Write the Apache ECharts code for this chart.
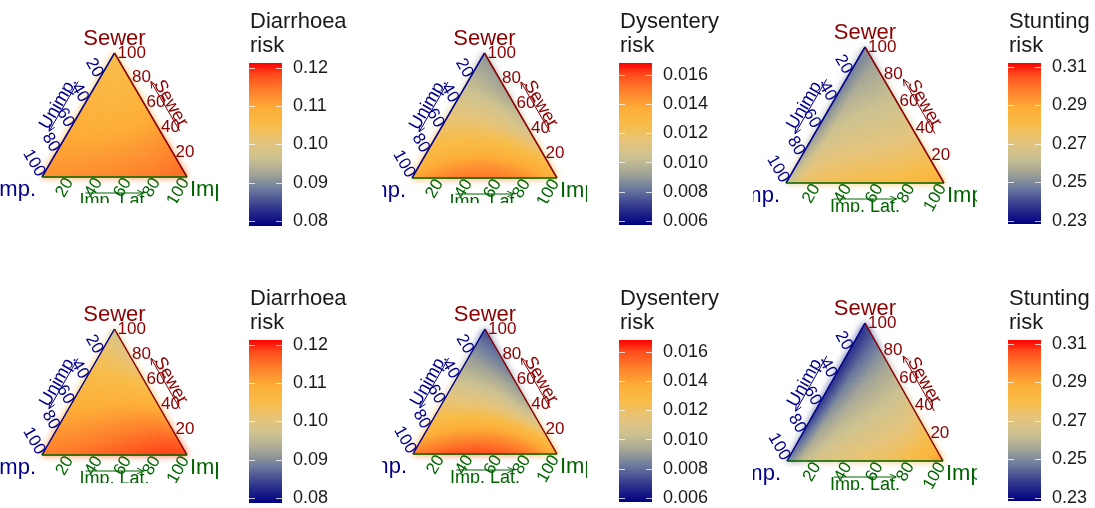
<!DOCTYPE html>
<html><head><meta charset="utf-8">
<script src="https://cdn.jsdelivr.net/npm/echarts@6/dist/echarts.min.js"></script>
<style>html,body{margin:0;padding:0;background:#fff}#c{width:1095px;height:508px}</style>
</head><body><div id="c"></div>
<script>
// ---------------- data ----------------
const tickValues = [20, 40, 60, 80, 100];
const cornerNames = ['Sewer', 'Unimp.', 'Imp. Lat.'];
const diarrhoeaTicks = [0.08, 0.09, 0.10, 0.11, 0.12];
const dysenteryTicks = [0.006, 0.008, 0.010, 0.012, 0.014, 0.016];
const stuntingTicks = [0.23, 0.25, 0.27, 0.29, 0.31];
const diarrhoeaRange = [0.0787, 0.1213];
const dysenteryRange = [0.00573, 0.01682];
const stuntingRange = [0.2284, 0.3121];
const legendTitles = ['Diarrhoea\nrisk', 'Dysentery\nrisk', 'Stunting\nrisk'];
// Node values: one row per Sewer level 0,10,...,100; inside a row Imp. Lat. = 0,10,20,...
const diarrhoeaPanel1 = [
  [0.1120,0.1122,0.1124,0.1126,0.1128,0.1131,0.1135,0.1140,0.1146,0.1152,0.1155],
  [0.1113,0.1115,0.1117,0.1119,0.1121,0.1124,0.1128,0.1133,0.1140,0.1147],
  [0.1106,0.1107,0.1108,0.1110,0.1112,0.1115,0.1120,0.1126,0.1135],
  [0.1100,0.1098,0.1099,0.1101,0.1103,0.1107,0.1112,0.1122],
  [0.1094,0.1090,0.1090,0.1092,0.1095,0.1100,0.1108],
  [0.1086,0.1082,0.1082,0.1084,0.1088,0.1095],
  [0.1078,0.1074,0.1074,0.1077,0.1083],
  [0.1070,0.1066,0.1067,0.1072],
  [0.1062,0.1058,0.1060],
  [0.1053,0.1050],
  [0.1043]
];
const dysenteryPanel1 = [
  [0.0138,0.0143,0.0147,0.0150,0.0151,0.0151,0.0150,0.0148,0.0144,0.0139,0.0133],
  [0.0134,0.0138,0.0141,0.0143,0.0144,0.0144,0.0142,0.0139,0.0135,0.0128],
  [0.0129,0.0131,0.0133,0.0134,0.0134,0.0133,0.0131,0.0127,0.0120],
  [0.0125,0.0126,0.0127,0.0127,0.0126,0.0124,0.0119,0.0112],
  [0.0120,0.0120,0.0120,0.0119,0.0116,0.0111,0.0104],
  [0.0115,0.0114,0.0113,0.0111,0.0107,0.0100],
  [0.0110,0.0108,0.0106,0.0102,0.0096],
  [0.0104,0.0102,0.0098,0.0093],
  [0.0099,0.0096,0.0091],
  [0.0094,0.0090],
  [0.0087]
];
const stuntingPanel1 = [
  [0.2620,0.2745,0.2770,0.2782,0.2790,0.2797,0.2805,0.2815,0.2828,0.2845,0.2865],
  [0.2590,0.2715,0.2740,0.2752,0.2760,0.2767,0.2775,0.2786,0.2800,0.2820],
  [0.2560,0.2685,0.2710,0.2722,0.2730,0.2737,0.2746,0.2758,0.2775],
  [0.2535,0.2658,0.2682,0.2695,0.2703,0.2710,0.2720,0.2738],
  [0.2515,0.2633,0.2656,0.2668,0.2677,0.2686,0.2700],
  [0.2500,0.2610,0.2632,0.2644,0.2654,0.2668],
  [0.2490,0.2590,0.2610,0.2623,0.2638],
  [0.2485,0.2570,0.2590,0.2608],
  [0.2483,0.2552,0.2575],
  [0.2485,0.2535],
  [0.2495]
];
const diarrhoeaPanel2 = [
  [0.1140,0.1145,0.1150,0.1156,0.1162,0.1168,0.1175,0.1182,0.1188,0.1190,0.1185],
  [0.1128,0.1132,0.1137,0.1142,0.1148,0.1154,0.1160,0.1166,0.1170,0.1165],
  [0.1115,0.1118,0.1122,0.1127,0.1132,0.1137,0.1142,0.1145,0.1138],
  [0.1102,0.1104,0.1107,0.1110,0.1114,0.1117,0.1118,0.1110],
  [0.1088,0.1089,0.1091,0.1093,0.1094,0.1092,0.1082],
  [0.1074,0.1074,0.1074,0.1073,0.1068,0.1055],
  [0.1060,0.1058,0.1055,0.1048,0.1033],
  [0.1045,0.1040,0.1032,0.1015],
  [0.1030,0.1020,0.1000],
  [0.1012,0.0990],
  [0.0965]
];
const dysenteryPanel2 = [
  [0.0149,0.0153,0.0157,0.0159,0.0160,0.0160,0.0158,0.0155,0.0150,0.0143,0.0135],
  [0.0140,0.0144,0.0147,0.0149,0.0150,0.0149,0.0147,0.0143,0.0137,0.0128],
  [0.0132,0.0135,0.0137,0.0138,0.0138,0.0136,0.0132,0.0125,0.0115],
  [0.0124,0.0126,0.0126,0.0126,0.0124,0.0120,0.0113,0.0104],
  [0.0117,0.0117,0.0116,0.0114,0.0110,0.0104,0.0096],
  [0.0110,0.0109,0.0107,0.0104,0.0099,0.0091],
  [0.0103,0.0101,0.0098,0.0094,0.0087],
  [0.0096,0.0093,0.0089,0.0083],
  [0.0089,0.0085,0.0080],
  [0.0082,0.0077],
  [0.0072]
];
const stuntingPanel2 = [
  [0.2480,0.2620,0.2675,0.2705,0.2725,0.2742,0.2760,0.2782,0.2815,0.2865,0.2940],
  [0.2440,0.2585,0.2645,0.2678,0.2700,0.2718,0.2737,0.2760,0.2795,0.2845],
  [0.2410,0.2555,0.2617,0.2652,0.2675,0.2694,0.2715,0.2742,0.2785],
  [0.2390,0.2530,0.2592,0.2627,0.2651,0.2672,0.2698,0.2740],
  [0.2375,0.2507,0.2570,0.2605,0.2630,0.2655,0.2690],
  [0.2365,0.2487,0.2550,0.2585,0.2613,0.2645],
  [0.2360,0.2470,0.2532,0.2570,0.2600],
  [0.2358,0.2455,0.2517,0.2558],
  [0.2360,0.2443,0.2505],
  [0.2365,0.2435],
  [0.2380]
];

// ---------------- style ----------------
const palette = [[0,'#000080'],[0.12,'#353C8E'],[0.22,'#6A789E'],[0.32,'#A3A596'],[0.42,'#CDC290'],
  [0.52,'#E6C47A'],[0.62,'#F8BC48'],[0.72,'#FDAE38'],[0.84,'#FE7A2A'],[0.93,'#FF4A1C'],[1,'#FF0000']];
const C_S = '#8B0000', C_U = '#00008B', C_L = '#006400';
const FONT = '"Liberation Sans", Arial, Helvetica, sans-serif';
const H = Math.sqrt(3) / 2;

function hex(c){return [parseInt(c.slice(1,3),16),parseInt(c.slice(3,5),16),parseInt(c.slice(5,7),16)];}
const palRGB = palette.map(p => [p[0], hex(p[1])]);
function colorF(f){
  f = Math.max(0, Math.min(1, f));
  for (let i = 1; i < palRGB.length; i++) {
    if (f <= palRGB[i][0]) {
      const a = palRGB[i-1], b = palRGB[i];
      const t = (f - a[0]) / (b[0] - a[0]);
      const c = a[1].map((v, k) => Math.round(v + (b[1][k] - v) * t));
      return 'rgb(' + c.join(',') + ')';
    }
  }
  return 'rgb(255,0,0)';
}
function colorAt(v, range){ return colorF((v - range[0]) / (range[1] - range[0])); }

// panels: triangle box (tl,tr,tt,tb) and clipping box (cl,cr,ct,cb) in px
const panels = [
  {nodes: diarrhoeaPanel1, range: diarrhoeaRange, tl:42, tr:187, tt:53, tb:177, cl:0, cr:218, ct:0, cb:203},
  {nodes: dysenteryPanel1, range: dysenteryRange, tl:412, tr:557, tt:53, tb:178, cl:382, cr:587, ct:0, cb:203},
  {nodes: stuntingPanel1, range: stuntingRange, tl:786, tr:944, tt:47, tb:183, cl:753, cr:977, ct:0, cb:212},
  {nodes: diarrhoeaPanel2, range: diarrhoeaRange, tl:42, tr:187, tt:329, tb:455, cl:0, cr:218, ct:254, cb:483},
  {nodes: dysenteryPanel2, range: dysenteryRange, tl:413, tr:557, tt:329, tb:454, cl:382, cr:587, ct:254, cb:483},
  {nodes: stuntingPanel2, range: stuntingRange, tl:787, tr:943, tt:323, tb:461, cl:753, cr:977, ct:254, cb:490}
];
const bars = [
  {range: diarrhoeaRange, ticks: diarrhoeaTicks, dec:2, title: legendTitles[0], left:249, top:63, h:163},
  {range: dysenteryRange, ticks: dysenteryTicks, dec:3, title: legendTitles[1], left:619, top:63, h:162},
  {range: stuntingRange, ticks: stuntingTicks, dec:2, title: legendTitles[2], left:1008, top:63, h:161},
  {range: diarrhoeaRange, ticks: diarrhoeaTicks, dec:2, title: legendTitles[0], left:249, top:340, h:163},
  {range: dysenteryRange, ticks: dysenteryTicks, dec:3, title: legendTitles[1], left:619, top:340, h:162},
  {range: stuntingRange, ticks: stuntingTicks, dec:2, title: legendTitles[2], left:1008, top:340, h:161}
];

// build triangle cells from node rows
function buildCells(rows){
  const cells = [];
  const n = rows.length - 1;
  for (let r = 0; r < n; r++) {
    for (let j = 0; j <= n - 1 - r; j++) {
      cells.push([10*r, 10*j, rows[r][j], 10*r, 10*(j+1), rows[r][j+1], 10*(r+1), 10*j, rows[r+1][j]]);
      if (j <= n - 2 - r)
        cells.push([10*r, 10*(j+1), rows[r][j+1], 10*(r+1), 10*j, rows[r+1][j], 10*(r+1), 10*(j+1), rows[r+1][j+1]]);
    }
  }
  return cells;
}
function onEdge(c){
  const S = [c[0], c[3], c[6]], L = [c[1], c[4], c[7]];
  const U = S.map((s, i) => 100 - s - L[i]);
  const cnt = arr => arr.filter(v => Math.abs(v) < 1e-9).length;
  return cnt(S) >= 2 || cnt(L) >= 2 || cnt(U) >= 2;
}
function triFill(p, v, range){
  const a1 = p[1][0]-p[0][0], b1 = p[1][1]-p[0][1], a2 = p[2][0]-p[0][0], b2 = p[2][1]-p[0][1];
  const d1 = v[1]-v[0], d2 = v[2]-v[0];
  const det = a1*b2 - a2*b1;
  const vmin = Math.min(v[0],v[1],v[2]), vmax = Math.max(v[0],v[1],v[2]);
  if (Math.abs(det) < 1e-9 || vmax - vmin < 1e-12) return colorAt(v[0], range);
  const gx = (d1*b2 - b1*d2)/det, gy = (a1*d2 - d1*a2)/det;
  const g2 = gx*gx + gy*gy;
  const sA = (vmin - v[0])/g2, sB = (vmax - v[0])/g2;
  const stops = [];
  for (let k = 0; k <= 4; k++) { const t = k/4; stops.push({offset: t, color: colorAt(vmin + t*(vmax-vmin), range)}); }
  return new echarts.graphic.LinearGradient(p[0][0]+gx*sA, p[0][1]+gy*sA, p[0][0]+gx*sB, p[0][1]+gy*sB, stops, true);
}
function cellRender(range, halo){
  return function(params, api){
    const pts = [], vals = [];
    for (let k = 0; k < 3; k++) {
      const S = api.value(3*k), L = api.value(3*k+1);
      pts.push(api.coord([L + S/2, S*H]));
      vals.push(api.value(3*k+2));
    }
    const fill = triFill(pts, vals, range);
    const style = {fill: fill, stroke: fill, lineWidth: 0.8};
    if (halo) { style.shadowBlur = 7; style.shadowColor = colorAt((vals[0]+vals[1]+vals[2])/3, range); }
    return {type: 'polygon', shape: {points: pts}, style: style};
  };
}
function decoRender(params, api){
  const P = (S, L) => api.coord([L + S/2, S*H]);
  const apex = P(100, 0), bl = P(0, 0), br = P(0, 100);
  const unit = (a, b) => { const dx = b[0]-a[0], dy = b[1]-a[1], l = Math.hypot(dx, dy); return [dx/l, dy/l]; };
  const dR = unit(apex, br), dB = unit(br, bl), dL = unit(bl, apex);
  const nR = [dR[1], -dR[0]], nB = [dB[1], -dB[0]], nL = [dL[1], -dL[0]];
  const rotR = -Math.atan2(dR[1], dR[0]), rotL = -Math.atan2(dL[1], dL[0]);
  const ch = [];
  const line = (a, b, col, w) => ch.push({type:'line', shape:{x1:a[0], y1:a[1], x2:b[0], y2:b[1]}, style:{stroke:col, lineWidth:w}});
  const text = (x, y, str, col, size, align, va, rot) => ch.push({type:'text', x:x, y:y, rotation:rot||0,
    style:{text:str, fill:col, fontSize:size, fontFamily:FONT, align:align, verticalAlign:va}});
  const off = (p, n, d) => [p[0]+n[0]*d, p[1]+n[1]*d];
  const arrow = (a, b, n, d, col) => {
    const A = off(a, n, d), B = off(b, n, d);
    line(A, B, col, 1);
    const u = unit(B, A);
    [0.42, -0.42].forEach(t => {
      const r = [u[0]*Math.cos(t) - u[1]*Math.sin(t), u[0]*Math.sin(t) + u[1]*Math.cos(t)];
      line(B, [B[0]+r[0]*7, B[1]+r[1]*7], col, 1);
    });
  };
  // triangle edges
  line(bl, apex, C_U, 1.5); line(apex, br, C_S, 1.5); line(bl, br, C_L, 1.5);
  // tick labels
  tickValues.forEach(t => {
    const pr = P(t, 100 - t);
    text(pr[0] + 3, pr[1], String(t), C_S, 17, 'left', 'middle', 0);
    const pl = P(100 - t, 0);
    text(pl[0] - dR[0]*2, pl[1] - dR[1]*2, String(t), C_U, 17, 'right', 'middle', rotR);
    const pb = P(0, t);
    text(pb[0] - dL[0]*3, pb[1] - dL[1]*3, String(t), C_L, 17, 'right', 'middle', rotL);
  });
  // arrows
  arrow(P(30, 70), P(70, 30), nR, 17, C_S);
  arrow(P(70, 0), P(30, 0), nL, 17, C_U);
  arrow(P(0, 30), P(0, 70), nB, 16, C_L);
  // axis titles
  const tS = off(P(50, 50), nR, 23), tU = off(P(50, 0), nL, 23), tL = off(P(0, 50), nB, 24);
  text(tS[0], tS[1], cornerNames[0], C_S, 18, 'center', 'middle', rotR);
  text(tU[0], tU[1], cornerNames[1], C_U, 18, 'center', 'middle', rotL);
  text(tL[0], tL[1], cornerNames[2], C_L, 18, 'center', 'middle', 0);
  // corner labels
  text(apex[0], apex[1] - 14, cornerNames[0], C_S, 22, 'center', 'middle', 0);
  text(bl[0] - 6, bl[1] + 13, cornerNames[1], C_U, 22, 'right', 'middle', 0);
  text(br[0] + 3, br[1] + 13, cornerNames[2], C_L, 22, 'left', 'middle', 0);
  return {type: 'group', children: ch};
}
function barRender(range){
  return function(params, api){
    const p0 = api.coord([0, range[1]]), p1 = api.coord([1, range[0]]);
    const stops = palette.map(s => ({offset: 1 - s[0], color: s[1]})).reverse();
    return {type:'rect', shape:{x:p0[0], y:p0[1], width:p1[0]-p0[0], height:p1[1]-p0[1]},
      style:{fill: new echarts.graphic.LinearGradient(0, 0, 0, 1, stops)}};
  };
}

// ---------------- option ----------------
const grid = [], xAxis = [], yAxis = [], series = [], title = [];
panels.forEach((p, i) => {
  const w = p.tr - p.tl, h = p.tb - p.tt;
  grid.push({left: p.cl, top: p.ct, width: p.cr - p.cl, height: p.cb - p.ct, outerBoundsMode: 'none', containLabel: false});
  xAxis.push({type:'value', gridIndex:i, show:false, min:(p.cl - p.tl)/w*100, max:(p.cr - p.tl)/w*100});
  yAxis.push({type:'value', gridIndex:i, show:false, min:-(p.cb - p.tb)/h*100*H, max:(p.tb - p.ct)/h*100*H});
  const cells = buildCells(p.nodes);
  series.push({type:'custom', xAxisIndex:i, yAxisIndex:i, z:1, clip:true, silent:true,
    renderItem: cellRender(p.range, true), data: cells.filter(onEdge)});
  series.push({type:'custom', xAxisIndex:i, yAxisIndex:i, z:2, clip:true, silent:true,
    renderItem: cellRender(p.range, false), data: cells});
  series.push({type:'custom', xAxisIndex:i, yAxisIndex:i, z:3, clip:true, silent:true,
    renderItem: decoRender, data: [[50, 40]]});
});
bars.forEach((b, k) => {
  const gi = 6 + k;
  grid.push({left: b.left, top: b.top, width: 33, height: b.h, outerBoundsMode: 'none', containLabel: false});
  xAxis.push({type:'value', gridIndex:gi, show:false, min:0, max:1});
  const tickStyle = {show:true, inside:true, length:6, customValues: b.ticks, lineStyle:{color:'rgba(255,255,255,0.75)', width:1}};
  yAxis.push({type:'value', gridIndex:gi, position:'left', min:b.range[0], max:b.range[1], z:10,
    axisLine:{show:false}, splitLine:{show:false}, axisTick: tickStyle, axisLabel:{show:false}});
  series.push({type:'custom', xAxisIndex:gi, yAxisIndex:gi, z:2, silent:true, renderItem: barRender(b.range), data:[[0.5, b.range[0]]]});
  title.push({text: b.title, left: b.left + 1, top: b.top - 53, padding: 0,
    textStyle:{fontSize:22, fontWeight:'normal', color:'#1a1a1a', fontFamily:FONT, lineHeight:24}});
});
bars.forEach((b, k) => {
  const gi = 6 + k;
  yAxis.push({type:'value', gridIndex:gi, position:'right', min:b.range[0], max:b.range[1], z:10,
    axisLine:{show:false}, splitLine:{show:false},
    axisTick:{show:true, inside:true, length:6, customValues: b.ticks, lineStyle:{color:'rgba(255,255,255,0.75)', width:1}},
    axisLabel:{show:true, customValues: b.ticks, margin:11, fontSize:18, color:'#1a1a1a', fontFamily:FONT,
      formatter: v => Number(v).toFixed(b.dec)}});
});

const chart = echarts.init(document.getElementById('c'), null, {renderer:'canvas'});
chart.setOption({animation:false, backgroundColor:'#ffffff', title, grid, xAxis, yAxis, series});
</script>
</body></html>
